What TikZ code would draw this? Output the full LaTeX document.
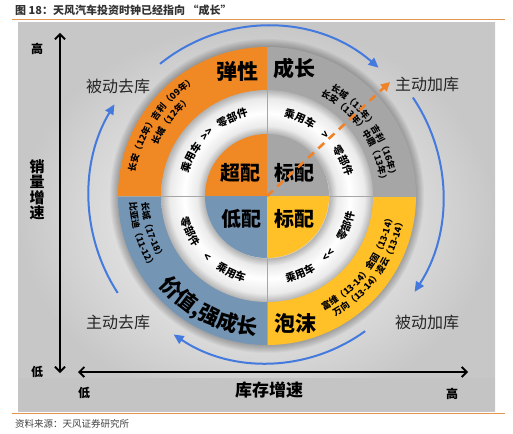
\documentclass[tikz,border=0pt]{standalone}
\usepackage{fontspec}
\setmainfont{Noto Sans CJK SC}
\usetikzlibrary{arrows.meta,decorations.text}
\definecolor{qorange}{RGB}{240,136,36}
\definecolor{qgray}{RGB}{166,166,166}
\definecolor{qblue}{RGB}{117,149,180}
\definecolor{qyellow}{RGB}{255,192,40}
\definecolor{arrblue}{RGB}{68,122,222}
\definecolor{lineorange}{RGB}{226,150,80}
\definecolor{titlegray}{RGB}{50,50,50}
\definecolor{dashorange}{RGB}{240,130,40}
\pgfdeclareradialshading{ringshade}{\pgfpoint{0bp}{0bp}}{color(0bp)=(white); color(14.3bp)=(white); color(14.7bp)=(black!30); color(16.5bp)=(black!8); color(19.5bp)=(white); color(23bp)=(black!8); color(25bp)=(black!30); color(50bp)=(black!30)}
\newcommand\arctxt[5]{\path[decorate,decoration={text along path,text align=center,text={|#4|#5}}] (#1:#3pt) arc[start angle=#1,end angle=#2,radius=#3pt];}
\newcommand\smallfmt{\fontsize{9}{9}\selectfont\bfseries}
\newcommand\whitefmt{\fontsize{10.5}{10.5}\selectfont\bfseries}
\begin{document}
\begin{tikzpicture}[x=1pt,y=1pt,
  lbl/.style={font=\fontsize{16}{16}\selectfont, text=black!85, inner sep=0pt},
  bigword/.style={font=\fontsize{21}{21}\selectfont\bfseries, inner sep=0pt},
  midword/.style={font=\fontsize{20}{20}\selectfont\bfseries, inner sep=0pt},
  axlbl/.style={font=\fontsize{12}{12}\selectfont\bfseries, inner sep=0pt},
  bluearr/.style={draw=arrblue, line width=2pt, -{Triangle[length=10pt,width=9pt]}},
  axisarr/.style={draw=black, line width=1.8pt, {Straight Barb[length=5pt,width=10pt]}-{Straight Barb[length=5pt,width=10pt]}},
  dasharr/.style={draw=dashorange, line width=2.6pt, dash pattern=on 8pt off 6pt, -{Triangle[length=9pt,width=9pt]}},
  divline/.style={draw=black!35, line width=0.5pt}
]
\useasboundingbox (0,0) rectangle (513,-433);
% background panel
\shade[inner color=white, outer color=black!22] (18,-23) rectangle (495,-411);
\fill[black!23] (18,-378) rectangle (495,-411);
% title and rules
\node[anchor=west, inner sep=0pt, font=\fontsize{11}{11}\selectfont\bfseries, text=titlegray] (title) at (15,-10) {图 18：天风汽车投资时钟已经指向 “成长”};
\draw[lineorange, line width=0.9pt] (12,-19.5) -- (505,-19.5);
\draw[lineorange, line width=0.9pt] (12,-413.5) -- (505,-413.5);
\node[anchor=west, inner sep=0pt, font=\fontsize{9.5}{9.5}\selectfont, text=black!75] (source) at (15,-423.5) {资料来源：天风证券研究所};

\begin{scope}[shift={(267,-196)}]
\coordinate (ctr) at (0,0);
% shadow
\foreach \k in {1,...,8} \fill[black, opacity=0.035] (ctr) circle[radius=149pt+\k pt];
% outer quadrants
\fill[qorange] (ctr) -- (90:149pt) arc[start angle=90,end angle=180,radius=149pt] -- cycle;
\fill[qgray] (ctr) -- (0:149pt) arc[start angle=0,end angle=90,radius=149pt] -- cycle;
\fill[qblue] (ctr) -- (180:149pt) arc[start angle=180,end angle=270,radius=149pt] -- cycle;
\fill[qyellow] (ctr) -- (270:149pt) arc[start angle=270,end angle=360,radius=149pt] -- cycle;
% white ring
\shade[shading=ringshade] (ctr) circle[radius=106pt];
% inner quadrants
\fill[qorange] (ctr) -- (90:62pt) arc[start angle=90,end angle=180,radius=62pt] -- cycle;
\fill[qgray] (ctr) -- (0:62pt) arc[start angle=0,end angle=90,radius=62pt] -- cycle;
\fill[qblue] (ctr) -- (180:62pt) arc[start angle=180,end angle=270,radius=62pt] -- cycle;
\fill[qyellow] (ctr) -- (270:62pt) arc[start angle=270,end angle=360,radius=62pt] -- cycle;
% dividers
\draw[divline] (90:62pt) -- (90:149pt);
\draw[divline] (270:62pt) -- (270:149pt);
\draw[divline] (0:62pt) -- (0:149pt);
\draw[divline] (180:62pt) -- (180:149pt);

% white ring texts
\arctxt{173}{133}{82}{\whitefmt}{乘用车}
\arctxt{154}{114}{82}{\whitefmt}{>>}
\arctxt{134}{94}{82}{\whitefmt}{零部件}
\arctxt{87}{47}{81}{\whitefmt}{乘用车}
\arctxt{66}{26}{81}{\whitefmt}{>}
\arctxt{45}{5}{81}{\whitefmt}{零部件}
\arctxt{185}{225}{89}{\whitefmt}{零部件}
\arctxt{206}{246}{89}{\whitefmt}{<}
\arctxt{225}{265}{89}{\whitefmt}{乘用车}
\arctxt{-87}{-47}{89}{\whitefmt}{乘用车}
\arctxt{-64}{-24}{89}{\whitefmt}{<<}
\arctxt{-40.5}{-0.5}{89}{\whitefmt}{零部件}

% outer ring company texts
\arctxt{180}{112}{134}{\smallfmt}{长安（12年）吉利（09年）}
\arctxt{170}{114}{121}{\smallfmt}{长城（12年）}
\arctxt{70}{-3}{124}{\smallfmt}{长城（13年）吉利（16年）}
\arctxt{72}{-4}{114}{\smallfmt}{长安（13年）中鼎（13年）}
\arctxt{167}{227}{125.5}{\smallfmt}{长城（17-18）}
\arctxt{167}{228}{137.5}{\smallfmt}{比亚迪（11-12）}
\arctxt{-76}{4}{127.5}{\smallfmt}{富维（13-14）金固（13-14）}
\arctxt{-75}{5}{138.5}{\smallfmt}{万向（13-14）凌云（13-14）}
\arctxt{200}{285}{140}{\fontsize{21}{21}\selectfont\bfseries}{价值,强成长}

% blue cycle arrows
\coordinate (tops) at (129:170pt);
\coordinate (rights) at (34:176pt);
\coordinate (bots) at (-54:167pt);
\coordinate (lefts) at (213:178pt);
\draw[bluearr] (tops) arc[start angle=129,end angle=49,radius=170pt];
\draw[bluearr] (rights) arc[start angle=34,end angle=-33,radius=176pt];
\draw[bluearr] (bots) arc[start angle=-54,end angle=-124,radius=167pt];
\draw[bluearr] (lefts) arc[start angle=213,end angle=149,radius=178pt];
\end{scope}

% ring words
\node[bigword] (tanxing) at (237,-71) {弹性};
\node[bigword] (chengzhang) at (294,-68) {成长};
\node[bigword] (paomo) at (295,-323) {泡沫};
% inner words
\node[midword] (chaopei) at (240,-173) {超配};
\node[midword] (biaopei1) at (294,-173) {标配};
\node[midword] (dipei) at (241,-219) {低配};
\node[midword] (biaopei2) at (294,-219) {标配};

% quadrant labels
\node[lbl] (bdqk) at (118,-86) {被动去库};
\node[lbl] (zdjk) at (427,-84) {主动加库};
\node[lbl] (zdqk) at (118,-322) {主动去库};
\node[lbl] (bdjk) at (427,-322) {被动加库};

% axes
\coordinate (ytop) at (60,-33);
\coordinate (ybot) at (60,-373);
\coordinate (xleft) at (78,-372);
\coordinate (xright) at (468,-372);
\draw[axisarr] (ybot) -- (ytop);
\draw[axisarr] (xleft) -- (xright);
\node[axlbl] (ygao) at (37,-49) {高};
\node[axlbl] (ydi) at (37,-372) {低};
\node[font=\fontsize{15}{15.5}\selectfont\bfseries, align=center, inner sep=0pt] (ytitle) at (37,-190) {销\\量\\增\\速};
\node[axlbl] (xdi) at (84,-393) {低};
\node[font=\fontsize{17}{17}\selectfont\bfseries, inner sep=0pt] (xtitle) at (269,-390) {库存增速};
\node[axlbl] (xgao) at (452,-394) {高};

% orange dashed arrow
\coordinate (dend) at (390,-82);
\draw[dasharr] (ctr) -- (dend);
\end{tikzpicture}
\end{document}
